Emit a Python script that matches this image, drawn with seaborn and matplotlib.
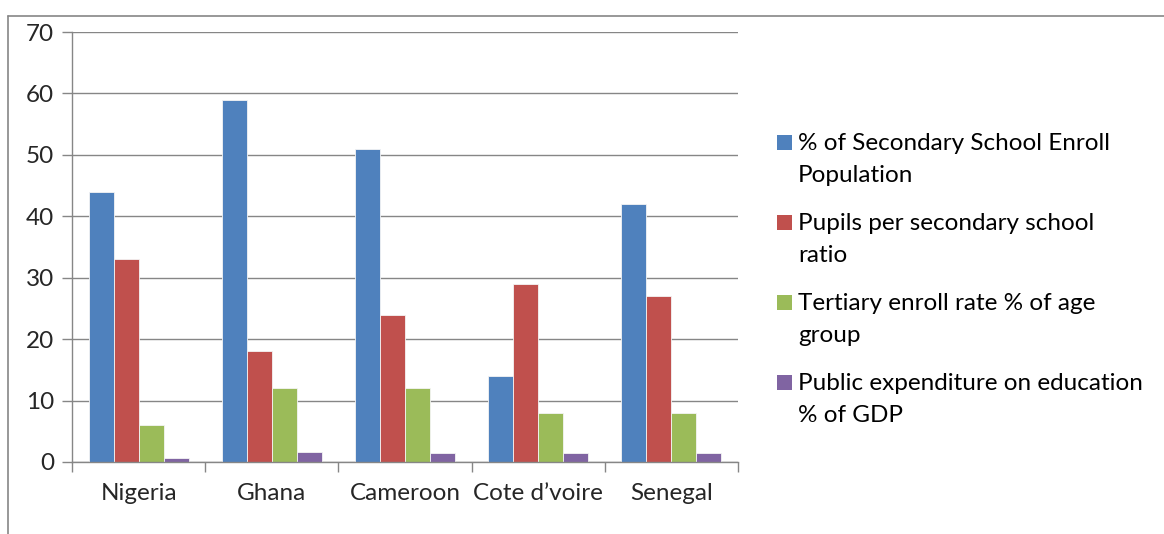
import pandas as pd
import seaborn as sns
import matplotlib.pyplot as plt
from matplotlib.patches import Rectangle

# data
countries = ['Nigeria', 'Ghana', 'Cameroon', 'Cote d\u2019voire', 'Senegal']
series = ['% of Secondary School Enroll\nPopulation',
          'Pupils per secondary school\nratio',
          'Tertiary enroll rate % of age\ngroup',
          'Public expenditure on education\n% of GDP']
sec_enroll = [44, 59, 51, 14, 42]
pupils_ratio = [33, 18, 24, 29, 27]
tertiary_rate = [6, 12, 12, 8, 8]
edu_spending = [0.6, 1.6, 1.4, 1.4, 1.4]
colors = ['#4F81BD', '#C0504D', '#9BBB59', '#8064A2']

df = pd.DataFrame({
    'Country': countries * 4,
    'Series': [s for s in series for _ in countries],
    'Value': sec_enroll + pupils_ratio + tertiary_rate + edu_spending,
})

sns.set_style('white')
plt.rcParams['font.family'] = ['Lato', 'DejaVu Sans']
FS = 17.5
W, H = 1164, 534

fig = plt.figure(figsize=(W / 100, H / 100), dpi=100)
ax = fig.add_axes([72 / W, 1 - 462 / H, 666 / W, 430 / H])

sns.barplot(data=df, x='Country', y='Value', hue='Series', palette=colors,
            saturation=1, width=0.75, edgecolor='#f4f4f4', linewidth=0.6,
            ax=ax, legend=False)

ax.set_ylim(0, 70)
ax.set_xlim(-0.5, 4.5)
ax.set_yticks(range(0, 71, 10))
ax.yaxis.grid(True, color='#868686', linewidth=1)
ax.set_axisbelow(True)
ax.set_xlabel('')
ax.set_ylabel('')
for side in ['top', 'right']:
    ax.spines[side].set_visible(False)
for side in ['left', 'bottom']:
    ax.spines[side].set_color('#868686')
    ax.spines[side].set_linewidth(1)

# category separators as ticks on the x axis
ax.set_xticks([i + 0.5 for i in range(-1, 5)], minor=False)
ax.set_xticklabels([])
ax.set_xticks(range(5), minor=True)
ax.set_xticklabels(countries, minor=True, fontsize=FS)
ax.tick_params(axis='x', which='major', direction='out', length=7,
               color='#868686', width=1, bottom=True)
ax.tick_params(axis='x', which='minor', length=0, pad=15)
ax.tick_params(axis='y', direction='out', length=7, color='#868686',
               width=1, left=True, labelsize=FS, pad=6)

# outer chart frame (partially visible)
fig.add_artist(plt.Line2D([8 / W, 8 / W], [0, 1 - 16 / H],
                          color='#868686', linewidth=1.2))
fig.add_artist(plt.Line2D([8 / W, 1], [1 - 16 / H, 1 - 16 / H],
                          color='#868686', linewidth=1.2))

# legend drawn by hand so the swatch sits on the first text line
for i, (label, c) in enumerate(zip(series, colors)):
    yc = 142 + 80 * i
    fig.add_artist(Rectangle((777 / W, 1 - (yc + 7.5) / H), 15 / W, 15 / H,
                             transform=fig.transFigure, facecolor=c,
                             edgecolor='none'))
    fig.text(798 / W, 1 - (yc - 9) / H, label, fontsize=FS, ha='left',
             va='top', linespacing=1.62, color='black')

fig.savefig('out.png', dpi=100)
